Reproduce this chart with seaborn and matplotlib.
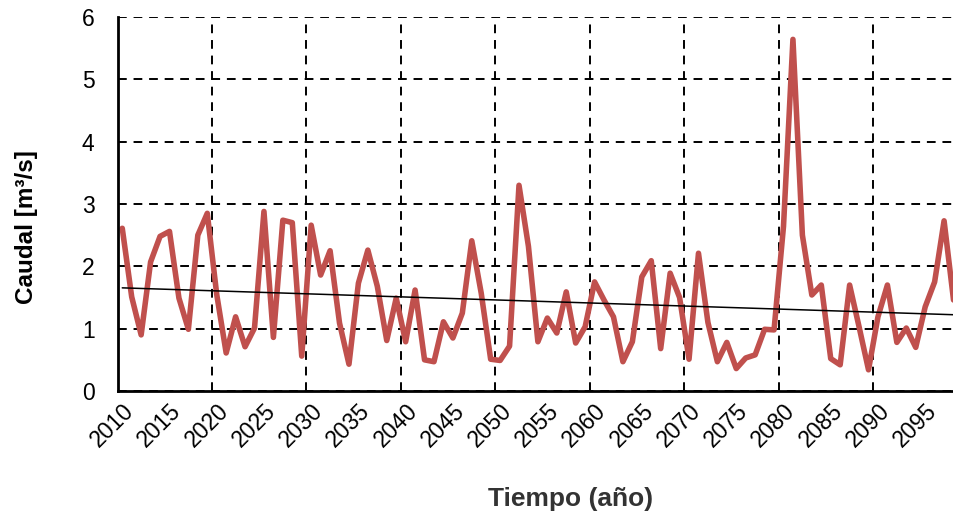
import numpy as np
import pandas as pd
import matplotlib
matplotlib.use("Agg")
import matplotlib.pyplot as plt
import seaborn as sns

## Data ##
years = list(range(2010, 2099))
caudal = [2.61, 1.51, 0.90, 2.07, 2.48, 2.56, 1.49, 0.99, 2.50, 2.85,
          1.55, 0.61, 1.19, 0.71, 1.01, 2.88, 0.86, 2.74, 2.70, 0.56,
          2.66, 1.86, 2.25, 1.09, 0.43, 1.73, 2.26, 1.68, 0.81, 1.49,
          0.79, 1.62, 0.50, 0.47, 1.11, 0.85, 1.25, 2.41, 1.57, 0.51,
          0.49, 0.72, 3.30, 2.32, 0.79, 1.17, 0.93, 1.59, 0.77, 1.03,
          1.75, 1.46, 1.19, 0.47, 0.79, 1.83, 2.09, 0.68, 1.89, 1.50,
          0.51, 2.21, 1.10, 0.47, 0.78, 0.36, 0.53, 0.58, 0.99, 0.98,
          2.64, 5.64, 2.50, 1.54, 1.70, 0.52, 0.42, 1.70, 1.03, 0.34,
          1.19, 1.70, 0.78, 1.01, 0.70, 1.35, 1.75, 2.73, 1.46]
label_years = list(range(2010, 2100, 5))
y_ticks = [0, 1, 2, 3, 4, 5, 6]

df = pd.DataFrame({'Year': years, 'Caudal': caudal})

# linear trend (like the Excel trendline)
slope, intercept = np.polyfit(df['Year'], df['Caudal'], 1)
df['Trend'] = slope * df['Year'] + intercept

## Plot ##
sns.set_style("white")
plt.rcParams['font.family'] = ['Liberation Sans', 'DejaVu Sans']

fig = plt.figure(figsize=(9.54, 5.21), dpi=100)
ax = fig.add_axes([0.1232, 0.2495, 0.8768, 0.718])

sns.lineplot(data=df, x='Year', y='Caudal', color='#C0504D', linewidth=4, ax=ax, zorder=3)
sns.lineplot(data=df, x='Year', y='Trend', color='black', linewidth=1.1, ax=ax, zorder=4)

ax.set_xlim(2009.5, 2098.05)
ax.set_ylim(0, 6)

# labels on categories, tick marks/grid between categories every 10 years
ax.set_xticks(label_years)
ax.set_xticklabels([str(y) for y in label_years], rotation=45, ha='right',
                   rotation_mode='anchor', fontsize=16.5, color='black')
ax.set_xticks(np.arange(2009.5, 2099, 10), minor=True)
ax.tick_params(axis='x', which='major', length=0, pad=6)
ax.tick_params(axis='x', which='minor', length=7, width=1.5, direction='out', color='black')

ax.set_yticks(y_ticks)
ax.set_yticklabels([str(v) for v in y_ticks], fontsize=16.5, color='black')
ax.tick_params(axis='y', which='major', length=15, width=1.5, direction='inout', pad=9, color='black')

ax.grid(False)
ax.grid(True, which='minor', axis='x', color='black', linestyle=(0, (4.5, 3.5)), linewidth=1.4)
ax.grid(True, which='major', axis='y', color='black', linestyle=(0, (4.5, 3.5)), linewidth=1.4)

sns.despine(ax=ax, top=True, right=True)
for side in ['left', 'bottom']:
    ax.spines[side].set_color('black')
    ax.spines[side].set_linewidth(2)
    ax.spines[side].set_zorder(5)

ax.set_xlabel('Tiempo (año)', fontsize=19, fontweight='bold', color='#333333')
ax.set_ylabel('Caudal [m³/s]', fontsize=17.5, fontweight='bold', color='black')
ax.xaxis.set_label_coords(0.542, -0.257)
ax.yaxis.set_label_coords(-0.0956, 0.4385)

fig.savefig('out.png', dpi=100)
